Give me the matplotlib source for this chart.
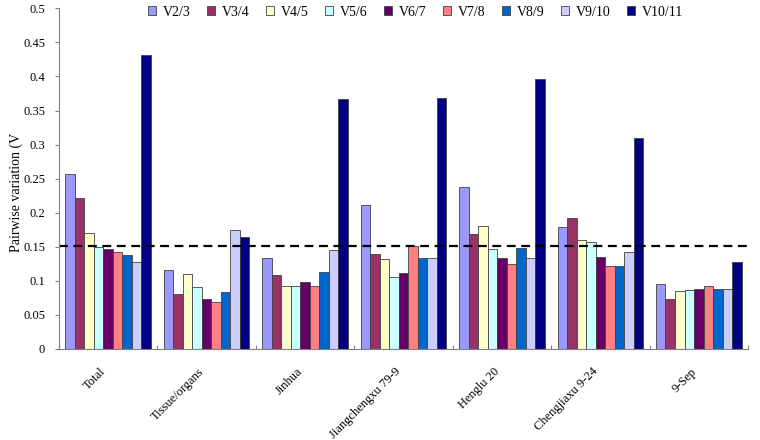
import numpy as np
import matplotlib
matplotlib.use("Agg")
import matplotlib.pyplot as plt

categories = ["Total", "Tissue/organs", "Jinhua", "Jiangchengxu 79-9",
              "Henglu 20", "Chengjiaxu 9-24", "9-Sep"]
series_names = ["V2/3", "V3/4", "V4/5", "V5/6", "V6/7", "V7/8", "V8/9", "V9/10", "V10/11"]
series_colors = ["#9999FF", "#993366", "#FFFFCC", "#CCFFFF", "#660066",
                 "#FF8080", "#0066CC", "#CCCCFF", "#000080"]

# rows = categories, columns = V2/3 ... V10/11
values = [
    [0.257, 0.221, 0.170, 0.149, 0.146, 0.142, 0.138, 0.127, 0.431],
    [0.116, 0.080, 0.110, 0.091, 0.074, 0.069, 0.084, 0.175, 0.164],
    [0.133, 0.109, 0.093, 0.093, 0.098, 0.093, 0.113, 0.145, 0.367],
    [0.212, 0.140, 0.132, 0.105, 0.111, 0.151, 0.133, 0.133, 0.369],
    [0.238, 0.169, 0.180, 0.146, 0.133, 0.124, 0.148, 0.134, 0.397],
    [0.179, 0.192, 0.160, 0.157, 0.135, 0.122, 0.122, 0.142, 0.309],
    [0.095, 0.074, 0.085, 0.086, 0.088, 0.092, 0.088, 0.088, 0.127],
]
cutoff = 0.151

plt.rcParams['font.family'] = ['Liberation Serif', 'DejaVu Serif']

fig = plt.figure(figsize=(7.6, 4.4), dpi=100)
ax = fig.add_axes([0.0776, 0.207, 0.9066, 0.774])

data = np.array(values)
x = np.arange(len(categories))
n = len(series_names)
width = 0.87 / n

for i in range(n):
    ax.bar(x - 0.435 + width * (i + 0.5), data[:, i], width, color=series_colors[i],
           edgecolor='#404040', linewidth=0.6, label=series_names[i])

ax.axhline(cutoff, color='black', linestyle=(0, (4, 2.5)), linewidth=1.6)

ax.set_xlim(-0.5, len(categories) - 0.5)
ax.set_ylim(0, 0.5)
ax.set_yticks(np.arange(0, 0.51, 0.05))
ax.set_yticklabels(["0", "0.05", "0.1", "0.15", "0.2", "0.25", "0.3", "0.35", "0.4", "0.45", "0.5"])
ax.tick_params(axis='y', labelsize=9, length=3, width=0.8, color='#808080', pad=7)

# category boundary ticks, labels at the centres
ax.set_xticks(np.arange(-0.5, len(categories), 1.0))
ax.set_xticklabels([])
ax.tick_params(axis='x', which='major', direction='in', length=3, color='#808080')
ax.set_xticks(x, minor=True)
ax.set_xticklabels(categories, minor=True, rotation=45, ha='right', va='top', fontsize=9)
ax.tick_params(axis='x', which='minor', length=0, pad=12)

for s in ['top', 'right']:
    ax.spines[s].set_visible(False)
for s in ['left', 'bottom']:
    ax.spines[s].set_color('#808080')
    ax.spines[s].set_linewidth(0.8)

ax.set_ylabel('Pairwise variation (V', fontsize=10)
ax.yaxis.set_label_coords(-0.052, 0.46)

fig.legend(loc='upper left', bbox_to_anchor=(0.188, 1.0), ncol=n, frameon=False,
           fontsize=10, handlelength=0.55, handleheight=0.55, handletextpad=0.5,
           columnspacing=1.2, borderaxespad=0)

fig.savefig("out.png", dpi=100)
